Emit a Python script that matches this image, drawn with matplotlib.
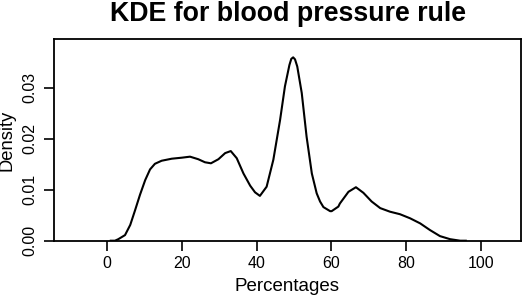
import numpy as np
import matplotlib
matplotlib.use('Agg')
import matplotlib.pyplot as plt

# density curve (percentage, density)
pct = [1.0, 2.1, 3.0, 4.8, 6.2, 7.5, 8.8, 10.2, 11.5, 12.8, 14.6, 17.3, 20.0, 22.2,
       24.4, 26.2, 27.8, 29.8, 31.6, 33.1, 34.7, 36.5, 38.3, 39.6, 40.9, 42.7,
       44.5, 46.3, 47.6, 48.8, 49.3, 49.8, 50.3, 50.9, 52.1, 53.4, 54.8, 56.1,
       57.0, 57.9, 59.7, 60.1, 61.9, 62.3, 64.6, 66.6, 68.6, 70.8, 73.1, 75.7,
       78.4, 81.1, 83.8, 86.4, 89.1, 91.8, 94.5, 96.0]
dens = [0.0, 0.0, 0.0003, 0.0011, 0.0031, 0.0060, 0.0090, 0.0119, 0.0140, 0.0151,
        0.0157, 0.0161, 0.0163, 0.0165, 0.0160, 0.0154, 0.0152, 0.0160, 0.0172,
        0.0176, 0.0162, 0.0132, 0.0108, 0.0095, 0.0088, 0.0106, 0.0159, 0.0237,
        0.0303, 0.0345, 0.0357, 0.0360, 0.0356, 0.0342, 0.0290, 0.0204, 0.0132,
        0.0093, 0.0077, 0.0066, 0.0058, 0.0058, 0.0067, 0.0073, 0.0096, 0.0105,
        0.0094, 0.0077, 0.0064, 0.0057, 0.0052, 0.0044, 0.0034, 0.0021, 0.0009,
        0.0003, 0.0, 0.0]

xticks = [0, 20, 40, 60, 80, 100]
yticks = [0.00, 0.01, 0.02, 0.03]

plt.rcParams['font.family'] = ['Liberation Sans', 'DejaVu Sans']

fig = plt.figure(figsize=(5.24, 2.96), dpi=100)
ax = fig.add_axes([0.1031, 0.1868, 0.8906, 0.6814])

ax.plot(pct, dens, color='black', lw=1.5, solid_joinstyle='round')
ax.set_xlim(-14.2, 110.7)
ax.set_ylim(0, 0.0396)

ax.set_xticks(xticks)
ax.set_xticklabels([str(v) for v in xticks])
ax.set_yticks(yticks)
ax.set_yticklabels(['%.2f' % v for v in yticks], rotation=90, va='center')
ax.tick_params(direction='out', length=7, width=1.2, labelsize=11.5, pad=5,
               colors='black')
ax.tick_params(axis='x', pad=4)
for s in ax.spines.values():
    s.set_linewidth(1.3)

fig.text(0.5487, 0.929, 'KDE for blood pressure rule', ha='center', va='baseline',
         fontsize=19.3, fontweight='bold')
fig.text(0.5475, 0.017, 'Percentages', ha='center', va='baseline', fontsize=13.5)
fig.text(0.014, 0.527, 'Density', ha='center', va='center', rotation=90, fontsize=13.2)

fig.savefig('out.png', dpi=100)
